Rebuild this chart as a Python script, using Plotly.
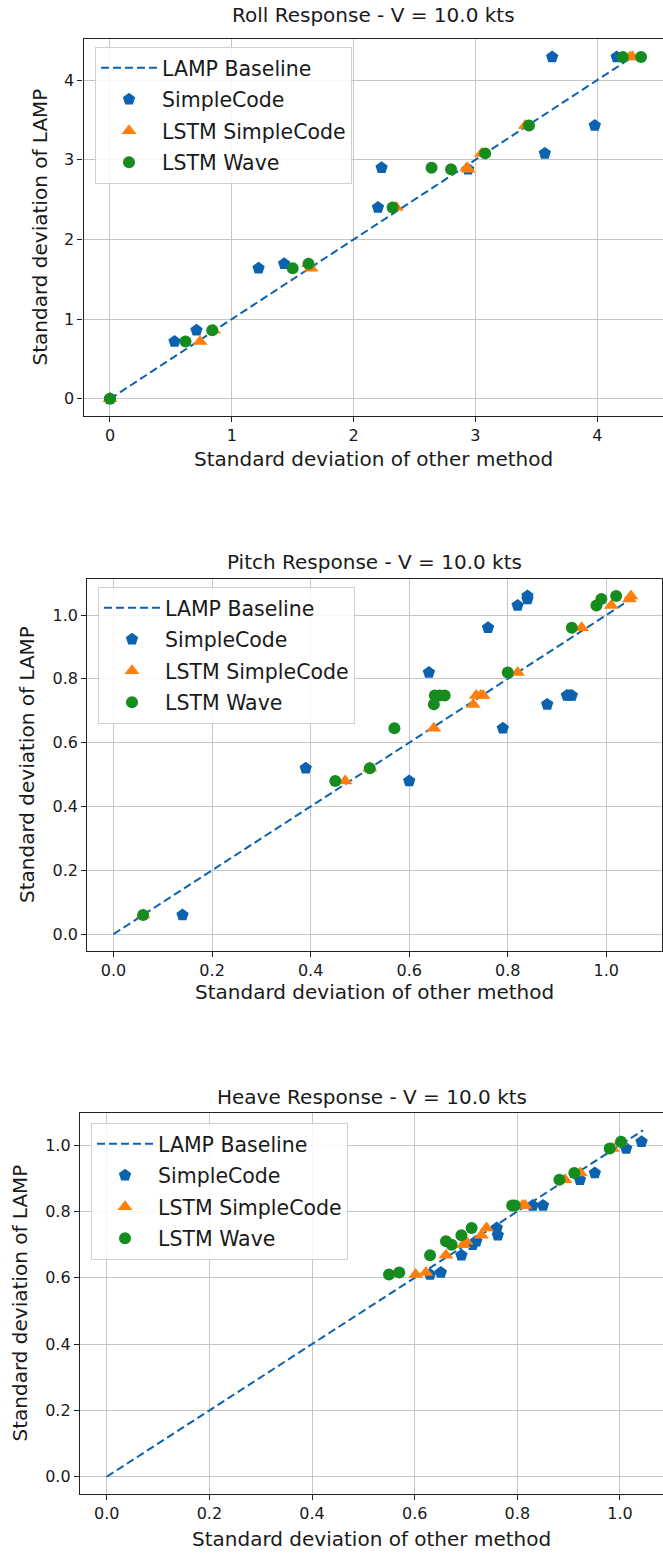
import plotly.graph_objects as go

# ---------------- data (x = std of other method, y = std of LAMP) ----------------
roll_lamp = [0.00, 0.72, 0.86, 1.64, 1.695, 2.40, 2.90, 2.88, 3.08, 3.43, 4.29, 4.29]
roll_simplecode = [0.00, 0.53, 0.71, 1.22, 1.43, 2.20, 2.23, 2.94, 3.57, 3.98, 3.63, 4.16]
roll_lstm_simplecode = [0.00, 0.74, 0.85, 1.65, 1.63, 2.35, 2.93, 2.94, 3.05, 3.41, 4.29, 4.27]
roll_lstm_wave = [0.00, 0.62, 0.84, 1.50, 1.63, 2.32, 2.64, 2.80, 3.08, 3.44, 4.21, 4.36]
roll_baseline = [0.0, 4.30]

pitch_lamp = [0.06, 0.48, 0.52, 0.645, 0.72, 0.748, 0.748, 0.748, 0.82, 0.96, 1.03, 1.05, 1.06]
pitch_simplecode = [0.14, 0.60, 0.39, 0.79, 0.88, 0.92, 0.93, 0.925, 0.64, 0.76, 0.82, 0.84, 0.84]
pitch_lstm_simplecode = [0.06, 0.47, 0.52, 0.65, 0.73, 0.736, 0.75, 0.745, 0.82, 0.95, 1.01, 1.047, 1.05]
pitch_lstm_wave = [0.06, 0.45, 0.52, 0.57, 0.65, 0.652, 0.662, 0.672, 0.80, 0.93, 0.98, 0.99, 1.02]
pitch_baseline = [0.0, 1.06]

heave_lamp = [0.61, 0.616, 0.668, 0.70, 0.71, 0.728, 0.75, 0.818, 0.818, 0.896, 0.916, 0.99, 1.01]
heave_simplecode = [0.63, 0.651, 0.691, 0.713, 0.72, 0.762, 0.76, 0.83, 0.85, 0.922, 0.951, 1.012, 1.042]
heave_lstm_simplecode = [0.602, 0.622, 0.661, 0.695, 0.70, 0.73, 0.74, 0.81, 0.815, 0.893, 0.923, 0.985, 1.0]
heave_lstm_wave = [0.55, 0.57, 0.63, 0.672, 0.661, 0.691, 0.711, 0.79, 0.795, 0.882, 0.911, 0.98, 1.002]
heave_baseline = [0.0, 1.045]

titles = ["Roll Response - V = 10.0 kts", "Pitch Response - V = 10.0 kts", "Heave Response - V = 10.0 kts"]
series_names = ["LAMP Baseline", "SimpleCode", "LSTM SimpleCode", "LSTM Wave"]
x_label = "Standard deviation of other method"
y_label = "Standard deviation of LAMP"

# ---------------- layout / style ----------------
W, H = 663, 1553
FONT = "DejaVu Sans"
BLUE, ORANGE, GREEN = "#0b63b0", "#ff7f0e", "#168c1e"
TXT = "#1a1a1a"


def py(p):
    return 1 - p / H


def px(p):
    return p / W


panels = [
    dict(lamp=roll_lamp, sc=roll_simplecode, lsc=roll_lstm_simplecode, lw=roll_lstm_wave, base=roll_baseline,
         xdom=[px(83.6), 1.0], ydom=[py(416), py(39)], xr=[-0.2165, 4.54], yr=[-0.215, 4.515],
         dtick=1, fmt=".0f", mirror_y=False, title_y=15, xt_y=459, yt_x=40, yc=227.5, leg=(95, 47)),
    dict(lamp=pitch_lamp, sc=pitch_simplecode, lsc=pitch_lstm_simplecode, lw=pitch_lstm_wave, base=pitch_baseline,
         xdom=[px(87.4), px(662)], ydom=[py(951), py(579)], xr=[-0.053, 1.113], yr=[-0.053, 1.113],
         dtick=0.2, fmt=".1f", mirror_y=True, title_y=562, xt_y=992, yt_x=27, yc=765, leg=(98, 587)),
    dict(lamp=heave_lamp, sc=heave_simplecode, lsc=heave_lstm_simplecode, lw=heave_lstm_wave, base=heave_baseline,
         xdom=[px(80), 1.0], ydom=[py(1494), py(1113)], xr=[-0.052, 1.0838], yr=[-0.052, 1.097],
         dtick=0.2, fmt=".1f", mirror_y=False, title_y=1097, xt_y=1539, yt_x=19, yc=1303.5, leg=(91, 1123)),
]

fig = go.Figure()
annotations = []
layout = {}

for i, p in enumerate(panels):
    k = "" if i == 0 else str(i + 1)
    xa, ya = "x" + k, "y" + k
    leg = "legend" + k
    common = dict(xaxis=xa, yaxis=ya, legend=leg, showlegend=True)

    fig.add_trace(go.Scatter(x=p["base"], y=p["base"], mode="lines", name=series_names[0],
                             line=dict(color=BLUE, width=2, dash="8px,4px"),
                             legendgroup=f"g0{i}", **common))
    fig.add_trace(go.Scatter(x=p["sc"], y=p["lamp"], mode="markers", name=series_names[1],
                             marker=dict(symbol="pentagon", size=13, color=BLUE, line=dict(width=0)),
                             legendgroup=f"g1{i}", **common))
    fig.add_trace(go.Scatter(x=p["lsc"], y=p["lamp"], mode="markers", name=series_names[2],
                             marker=dict(symbol="triangle-up", size=13, color=ORANGE, line=dict(width=0)),
                             legendgroup=f"g2{i}", **common))
    fig.add_trace(go.Scatter(x=p["lw"], y=p["lamp"], mode="markers", name=series_names[3],
                             marker=dict(symbol="circle", size=12, color=GREEN, line=dict(width=0)),
                             legendgroup=f"g3{i}", **common))

    axis_common = dict(showgrid=True, gridcolor="#c6c6c6", gridwidth=1.2, zeroline=False,
                       showline=True, linecolor="#222222", linewidth=1.3,
                       ticks="outside", ticklen=5, tickwidth=1.2, tickcolor="#222222",
                       tickfont=dict(family=FONT, size=16, color=TXT),
                       tick0=0, dtick=p["dtick"], tickformat=p["fmt"])
    layout["xaxis" + k] = dict(domain=p["xdom"], range=p["xr"], anchor=ya, mirror=True, **axis_common)
    layout["yaxis" + k] = dict(domain=p["ydom"], range=p["yr"], anchor=xa,
                               mirror=p["mirror_y"], **axis_common)
    layout[leg] = dict(x=px(p["leg"][0]), y=py(p["leg"][1]), xanchor="left", yanchor="top",
                       bgcolor="rgba(255,255,255,0.85)", bordercolor="#d0d0d0", borderwidth=1,
                       font=dict(family=FONT, size=20.5, color=TXT), itemwidth=56,
                       traceorder="grouped", tracegroupgap=1.8)

    xc = (p["xdom"][0] + p["xdom"][1]) / 2
    annotations.append(dict(text=titles[i], x=xc, y=py(p["title_y"]), xref="paper", yref="paper",
                            showarrow=False, xanchor="center", yanchor="middle",
                            font=dict(family=FONT, size=20, color=TXT)))
    annotations.append(dict(text=x_label, x=xc, y=py(p["xt_y"]), xref="paper", yref="paper",
                            showarrow=False, xanchor="center", yanchor="middle",
                            font=dict(family=FONT, size=20, color=TXT)))
    annotations.append(dict(text=y_label, x=px(p["yt_x"]), y=py(p["yc"]), xref="paper", yref="paper",
                            showarrow=False, xanchor="center", yanchor="middle", textangle=-90,
                            font=dict(family=FONT, size=20, color=TXT)))

fig.update_layout(width=W, height=H, margin=dict(l=0, r=0, t=0, b=0),
                  paper_bgcolor="white", plot_bgcolor="white",
                  annotations=annotations, **layout)

fig.write_html("out.html")
